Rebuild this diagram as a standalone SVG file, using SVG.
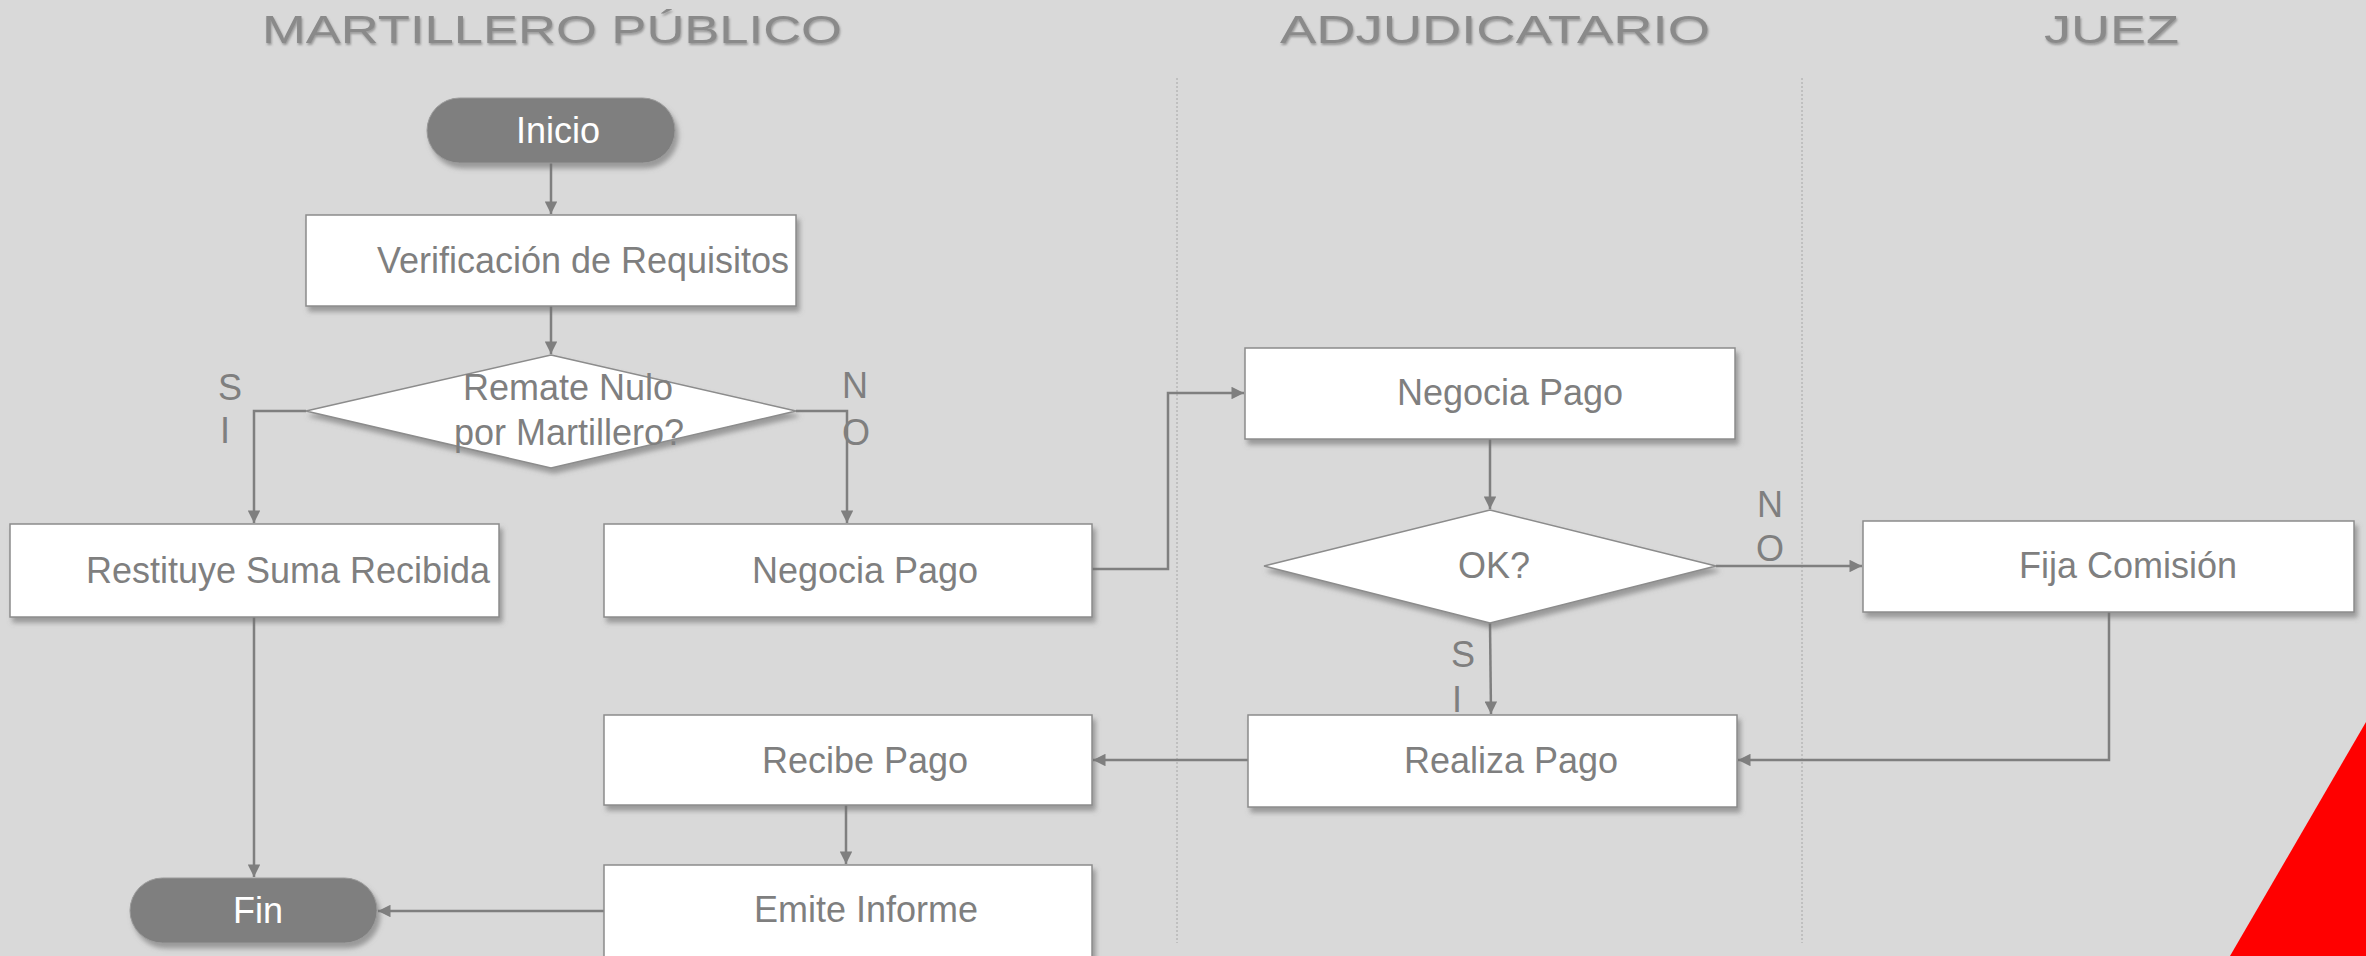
<svg xmlns="http://www.w3.org/2000/svg" width="2366" height="956" viewBox="0 0 2366 956">
<defs>
<style>
.lane{font-family:"Liberation Sans",Arial,sans-serif;font-size:38px;fill:#8a8a8a;}
.t{font-family:"Liberation Sans",Arial,sans-serif;font-size:36px;fill:#7f7f7f;text-anchor:middle;}
.tw{font-family:"Liberation Sans",Arial,sans-serif;font-size:36px;fill:#ffffff;text-anchor:middle;}
.lbl{font-family:"Liberation Sans",Arial,sans-serif;font-size:36px;fill:#7f7f7f;}
.box{fill:#ffffff;stroke:#8c8c8c;stroke-width:1.5;filter:url(#sh);}
.pill{fill:#7f7f7f;stroke:#9a9a9a;stroke-width:1;filter:url(#sh);}
.sep{stroke:#a6a6a6;stroke-width:1;stroke-dasharray:2 2;fill:none;}
.c{fill:none;stroke:#7f7f7f;stroke-width:2.5;}
</style>
<filter id="sh" x="-10%" y="-20%" width="130%" height="160%">
<feDropShadow dx="3" dy="5" stdDeviation="2.5" flood-color="#6e6e6e" flood-opacity="0.6"/>
</filter>
<filter id="tsh" x="-5%" y="-30%" width="110%" height="160%">
<feDropShadow dx="1" dy="2" stdDeviation="1" flood-color="#555555" flood-opacity="0.5"/>
</filter>
<marker id="ah" viewBox="0 0 10 10" refX="10" refY="5" markerWidth="6" markerHeight="5" orient="auto" markerUnits="strokeWidth">
<path d="M0,0 L10,5 L0,10 Z" fill="#7f7f7f"/>
</marker>
</defs>
<rect width="2366" height="956" fill="#d9d9d9"/>

<g id="lanes">
<text class="lane" x="262" y="43" textLength="580" lengthAdjust="spacingAndGlyphs" filter="url(#tsh)">MARTILLERO PÚBLICO</text>
<text class="lane" x="1280" y="43" textLength="430" lengthAdjust="spacingAndGlyphs" filter="url(#tsh)">ADJUDICATARIO</text>
<text class="lane" x="2044" y="43" textLength="135" lengthAdjust="spacingAndGlyphs" filter="url(#tsh)">JUEZ</text>
<line class="sep" x1="1177" y1="78" x2="1177" y2="943"/>
<line class="sep" x1="1802" y1="78" x2="1802" y2="943"/>
</g>

<g id="connectors">
<path class="c" d="M551,163 V214" marker-end="url(#ah)"/>
<path class="c" d="M551,306 V354" marker-end="url(#ah)"/>
<path class="c" d="M306,411 H254 V523" marker-end="url(#ah)"/>
<path class="c" d="M796,411 H847 V523" marker-end="url(#ah)"/>
<path class="c" d="M1092,569 H1168 V393 H1244" marker-end="url(#ah)"/>
<path class="c" d="M1490,439 V509" marker-end="url(#ah)"/>
<path class="c" d="M1716,566 H1862" marker-end="url(#ah)"/>
<path class="c" d="M1490,623 L1491,714" marker-end="url(#ah)"/>
<path class="c" d="M2109,612 V760 H1738" marker-end="url(#ah)"/>
<path class="c" d="M1248,760 H1093" marker-end="url(#ah)"/>
<path class="c" d="M846,805 V864" marker-end="url(#ah)"/>
<path class="c" d="M604,911 H378" marker-end="url(#ah)"/>
<path class="c" d="M254,617 V877" marker-end="url(#ah)"/>
</g>

<g id="n-inicio">
<rect class="pill" x="427" y="98" width="248" height="65" rx="32.5"/>
<text class="tw" x="558" y="143">Inicio</text>
</g>
<g id="n-verificacion">
<rect class="box" x="306" y="215" width="490" height="91"/>
<text class="t" x="583" y="273">Verificación de Requisitos</text>
</g>
<g id="n-remate-nulo">
<polygon class="box" points="551,355 796,411 551,468 306,411"/>
<text class="t" x="568" y="400">Remate Nulo</text>
<text class="t" x="569" y="445">por Martillero?</text>
<text class="lbl" x="218" y="400">S</text>
<text class="lbl" x="220" y="443">I</text>
<text class="lbl" x="842" y="398">N</text>
<text class="lbl" x="842" y="445">O</text>
</g>
<g id="n-restituye">
<rect class="box" x="10" y="524" width="489" height="93"/>
<text class="t" x="288" y="583">Restituye Suma Recibida</text>
</g>
<g id="n-negocia-mp">
<rect class="box" x="604" y="524" width="488" height="93"/>
<text class="t" x="865" y="583">Negocia Pago</text>
</g>
<g id="n-negocia-adj">
<rect class="box" x="1245" y="348" width="490" height="91"/>
<text class="t" x="1510" y="405">Negocia Pago</text>
</g>
<g id="n-ok">
<polygon class="box" points="1490,510 1716,566 1490,623 1264,566"/>
<text class="t" x="1494" y="578">OK?</text>
<text class="lbl" x="1757" y="517">N</text>
<text class="lbl" x="1756" y="561">O</text>
<text class="lbl" x="1451" y="667">S</text>
<text class="lbl" x="1452" y="712">I</text>
</g>
<g id="n-fija">
<rect class="box" x="1863" y="521" width="491" height="91"/>
<text class="t" x="2128" y="578">Fija Comisión</text>
</g>
<g id="n-realiza">
<rect class="box" x="1248" y="715" width="489" height="92"/>
<text class="t" x="1511" y="773">Realiza Pago</text>
</g>
<g id="n-recibe">
<rect class="box" x="604" y="715" width="488" height="90"/>
<text class="t" x="865" y="773">Recibe Pago</text>
</g>
<g id="n-emite">
<rect class="box" x="604" y="865" width="488" height="100"/>
<text class="t" x="866" y="922">Emite Informe</text>
</g>
<g id="n-fin">
<rect class="pill" x="130" y="878" width="247" height="65" rx="32.5"/>
<text class="tw" x="258" y="923">Fin</text>
</g>

<polygon points="2366,722 2230,956 2366,956" fill="#ff0000"/>
</svg>
